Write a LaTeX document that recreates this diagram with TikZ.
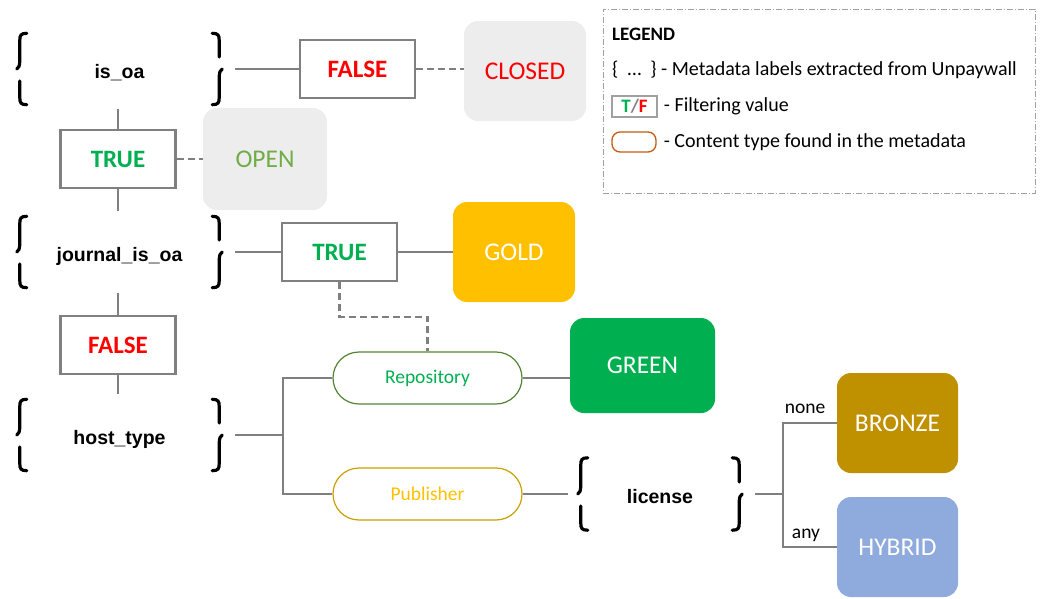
\documentclass[tikz,border=0pt]{standalone}
\usepackage{fontspec}
\setmainfont{Carlito}
\newfontfamily\arialf{Liberation Sans}
\usetikzlibrary{calc}
\definecolor{boxgray}{HTML}{808080}
\definecolor{linegray}{HTML}{7F7F7F}
\definecolor{leggray}{HTML}{A0A0A0}
\definecolor{fred}{HTML}{FF0000}
\definecolor{tgreen}{HTML}{00B050}
\definecolor{lgray}{HTML}{EDEDED}
\definecolor{opengreen}{HTML}{70AD47}
\definecolor{goldc}{HTML}{FFC000}
\definecolor{greenc}{HTML}{00B050}
\definecolor{bronzec}{HTML}{BF9000}
\definecolor{hybridc}{HTML}{8FAADC}
\definecolor{repoborder}{HTML}{548235}
\definecolor{pubborder}{HTML}{C9A000}
\definecolor{orangeb}{HTML}{C55A11}
\newcommand\drawbraces[1]{%
\draw[bracestyle] ($(#1.north west)+(10,0)$) .. controls ($(#1.north west)+(4,0)$) and ($(#1.north west)+(3,2)$) .. ($(#1.north west)+(3,7)$) -- ($(#1.west)+(3,-10)$) .. controls ($(#1.west)+(3,-3)$) and ($(#1.west)+(2,-1)$) .. (#1.west);
\draw[bracestyle] ($(#1.west)+(3,12)$) -- ($(#1.south west)+(3,-7)$) .. controls ($(#1.south west)+(3,-2)$) and ($(#1.south west)+(4,0)$) .. ($(#1.south west)+(10,0)$);
\draw[bracestyle] ($(#1.south east)+(-10,0)$) .. controls ($(#1.south east)+(-4,0)$) and ($(#1.south east)+(-3,-2)$) .. ($(#1.south east)+(-3,-7)$) -- ($(#1.east)+(-3,10)$) .. controls ($(#1.east)+(-3,3)$) and ($(#1.east)+(-2,1)$) .. (#1.east);
\draw[bracestyle] ($(#1.east)+(-3,-12)$) -- ($(#1.north east)+(-3,7)$) .. controls ($(#1.north east)+(-3,2)$) and ($(#1.north east)+(-4,0)$) .. ($(#1.north east)+(-10,0)$);
}
\begin{document}
\begin{tikzpicture}[x=1pt,y=-1pt,
  tfbox/.style={draw=boxgray, line width=2.5pt, fill=white, minimum width=115pt, minimum height=58pt, inner sep=0pt, font=\fontsize{25}{30}\selectfont\bfseries},
  result/.style={rounded corners=14pt, minimum width=122pt, minimum height=100pt, inner sep=0pt, text=white, font=\fontsize{25.5}{30}\selectfont},
  meta/.style={minimum width=205pt, minimum height=71pt, inner sep=0pt, text height=22pt, text depth=4pt, font=\arialf\bfseries\fontsize{19.5}{23}\selectfont},
  ctype/.style={rounded corners=26pt, line width=1.2pt, minimum width=189pt, minimum height=52pt, inner sep=0pt, font=\fontsize{19.5}{23}\selectfont},
  conn/.style={draw=linegray, line width=2.5pt},
  dconn/.style={conn, dash pattern=on 7pt off 4pt},
  bracestyle/.style={draw=black, line width=3.2pt, line cap=round},
  legtext/.style={anchor=west, inner sep=0pt, font=\fontsize{20}{24}\selectfont},
  edgelabel/.style={inner sep=0pt, font=\fontsize{19.5}{23}\selectfont}]
\useasboundingbox (0,0) rectangle (1042,598);

% metadata label nodes
\node[meta] (isoa) at (119.5,69) {is\_oa};
\node[meta] (jisoa) at (119.5,252) {journal\_is\_oa};
\node[meta] (host) at (119.5,435) {host\_type};
\node[meta, minimum width=164pt, minimum height=72pt] (lic) at (660,494) {license};
\drawbraces{isoa}
\drawbraces{jisoa}
\drawbraces{host}
\drawbraces{lic}

% filter value boxes
\node[tfbox, text=fred] (false1) at (357.5,69) {FALSE};
\node[tfbox, text=tgreen] (true1) at (118,159) {TRUE};
\node[tfbox, text=tgreen] (true2) at (339.5,252) {TRUE};
\node[tfbox, text=fred] (false2) at (118,345) {FALSE};

% result boxes
\node[result, fill=lgray, text=fred] (closed) at (525,71) {CLOSED};
\node[result, fill=lgray, text=opengreen, minimum width=124pt, minimum height=102pt] (open) at (265,159) {OPEN};
\node[result, fill=goldc] (gold) at (514,252) {GOLD};
\node[result, fill=greenc, minimum width=145pt, minimum height=95pt] (green) at (642.5,365.5) {GREEN};
\node[result, fill=bronzec, minimum width=121pt] (bronze) at (897.5,423) {BRONZE};
\node[result, fill=hybridc, minimum width=121pt] (hybrid) at (897.5,547) {HYBRID};

% content types
\node[ctype, draw=repoborder, text=tgreen] (repo) at (427.5,378) {Repository};
\node[ctype, draw=pubborder, text=goldc] (pub) at (427.5,494) {Publisher};

% connectors
\draw[conn, shorten <=13pt] (isoa.east) -- (false1.west);
\draw[dconn] (false1.east) -- (false1.east -| closed.west);
\draw[conn, shorten <=4pt] (true1.north |- isoa.south) -- (true1.north);
\draw[dconn] (true1.east) -- (open.west);
\draw[conn] (true1.south) -- ($(true1.south |- jisoa.north)+(0,-5)$);
\draw[conn, shorten <=13pt] (jisoa.east) -- (true2.west);
\draw[conn] (true2.east) -- (gold.west);
\draw[dconn] (true2.south) |- ($(true2.south)!0.5!(repo.north)$) -| (repo.north);
\draw[conn, shorten <=5pt] (false2.north |- jisoa.south) -- (false2.north);
\draw[conn] (false2.south) -- ($(false2.south |- host.north)+(0,-5)$);
\coordinate (hb) at ($(host.east)+(61,0)$);
\draw[conn, shorten <=13pt] (host.east) -- (hb);
\draw[conn] (repo.west) -| (hb) |- (pub.west);
\draw[conn] (repo.east) -- (repo.east -| green.west);
\draw[conn, shorten >=10pt] (pub.east) -- (lic.west);
\coordinate (lb) at ($(lic.east)+(41,0)$);
\draw[conn, shorten <=13pt] (lic.east) -- (lb);
\draw[conn] (bronze.west) -| (lb) |- (hybrid.west);
\node[edgelabel] (lnone) at (805,409) {none};
\node[edgelabel] (lany) at (806,535) {any};

% legend
\node[draw=leggray, line width=1pt, dash pattern=on 6pt off 2pt on 1pt off 2pt, minimum width=432pt, minimum height=184pt, inner sep=0pt] (legend) at (819,101) {};
\node[anchor=west, inner sep=0pt, font=\bfseries\fontsize{19}{22}\selectfont] (legtitle) at (612,34) {LEGEND};
\node[legtext] (leg1) at (612,70) {\{\ \ …\ \ \} - Metadata labels extracted from Unpaywall};
\node[draw=leggray, line width=1.5pt, minimum width=45pt, minimum height=21pt, inner sep=0pt, font=\bfseries\fontsize{19}{22}\selectfont] (legtf) at (634.5,106.5) {\textcolor{tgreen}{T}\textcolor{boxgray}{/}\textcolor{fred}{F}};
\node[legtext] (leg2) at ($(legtf.east)+(6,0)$) {- Filtering value};
\node[draw=orangeb, line width=1.3pt, rounded corners=8pt, minimum width=44pt, minimum height=20pt, inner sep=0pt] (legct) at (634,142) {};
\node[legtext] (leg3) at ($(legct.east)+(7,0)$) {- Content type found in the metadata};
\end{tikzpicture}
\end{document}
